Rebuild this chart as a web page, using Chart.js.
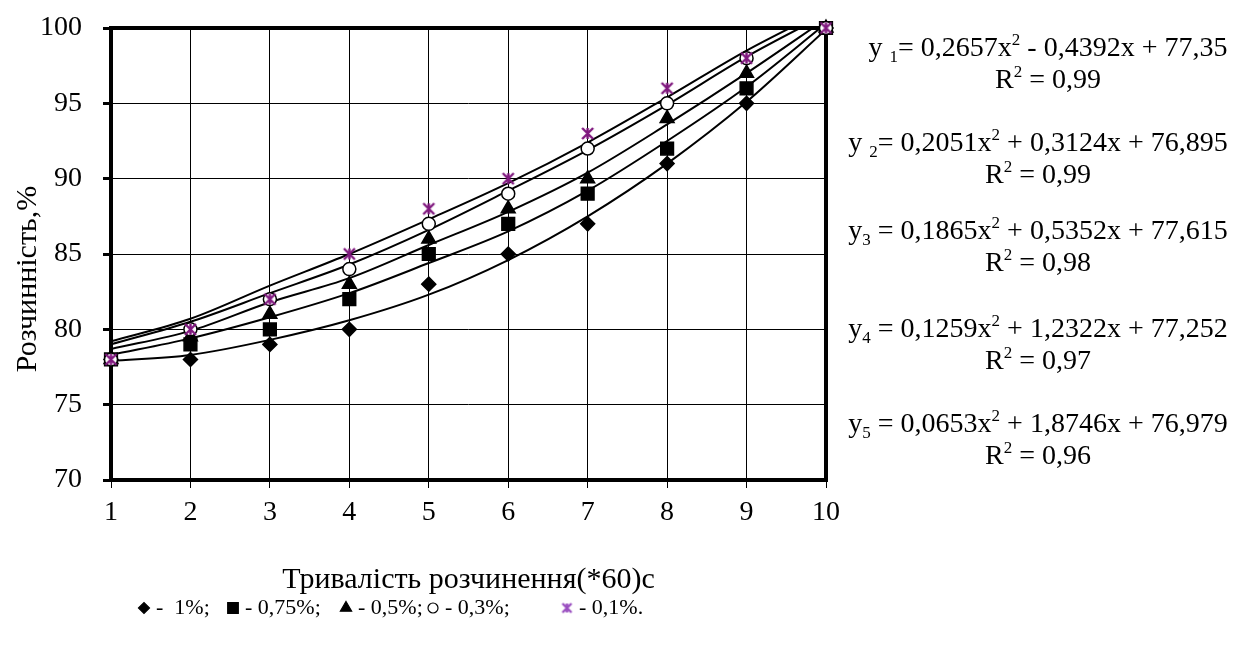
<!DOCTYPE html>
<html>
<head>
<meta charset="utf-8">
<script src="https://cdn.jsdelivr.net/npm/chart.js@4/dist/chart.umd.min.js"></script>
<style>
  html, body { margin: 0; padding: 0; background: #fff; }
  #wrap { width: 1235px; height: 655px; position: relative; }
</style>
</head>
<body>
<div id="wrap"><canvas id="chart" width="1235" height="655"></canvas></div>
<script>
// Dissolution time, (*60) s
const X_VALUES = [1, 2, 3, 4, 5, 6, 7, 8, 9, 10];
const Y_TICKS = [70, 75, 80, 85, 90, 95, 100];

// Measured solubility, % (one array per concentration)
const SOL_1   = [78, 78, 79, 80, 83, 85, 87, 91, 95, 100];
const SOL_075 = [78, 79, 80, 82, 85, 87, 89, 92, 96, 100];
const SOL_05  = [78, 79.5, 81, 83, 86, 88, 90, 94, 97, 100];
const SOL_03  = [78, 80, 82, 84, 87, 89, 92, 95, 98, 100];
const SOL_01  = [78, 80, 82, 85, 88, 90, 93, 96, 98, 100];

// Trend curves as plotted, one value per time step
const TREND_1   = [77.9, 78.3, 79.3, 80.6, 82.3, 84.6, 87.5, 91.0, 95.1, 99.9];
const TREND_075 = [78.3, 79.4, 80.8, 82.4, 84.4, 86.5, 89.2, 92.5, 96.1, 100.3];
const TREND_05  = [78.7, 79.9, 81.8, 83.4, 85.6, 87.8, 90.4, 93.6, 97.0, 100.6];
const TREND_03  = [79.0, 80.5, 82.4, 84.3, 86.6, 89.2, 91.9, 94.9, 98.1, 100.9];
const TREND_01  = [79.2, 80.7, 82.9, 85.0, 87.3, 89.7, 92.4, 95.4, 98.5, 101.2];

const LEGEND_TEXT = ['-  1%;', '- 0,75%;', '- 0,5%;', '- 0,3%;', '- 0,1%.'];

// Regression equations, as rich-text runs: [text, 'n' | 'sub' | 'sup']
const EQUATIONS = [
  [['y ', 'n'], ['1', 'sub'], ['= 0,2657x', 'n'], ['2', 'sup'], [' - 0,4392x + 77,35', 'n']],
  [['y ', 'n'], ['2', 'sub'], ['= 0,2051x', 'n'], ['2', 'sup'], [' + 0,3124x + 76,895', 'n']],
  [['y', 'n'], ['3', 'sub'], [' = 0,1865x', 'n'], ['2', 'sup'], [' + 0,5352x + 77,615', 'n']],
  [['y', 'n'], ['4', 'sub'], [' = 0,1259x', 'n'], ['2', 'sup'], [' + 1,2322x + 77,252', 'n']],
  [['y', 'n'], ['5', 'sub'], [' = 0,0653x', 'n'], ['2', 'sup'], [' + 1,8746x + 76,979', 'n']]
];
const R2_VALUES = ['0,99', '0,99', '0,98', '0,97', '0,96'];

const X_TITLE = 'Тривалість розчинення(*60)с';
const Y_TITLE = 'Розчинність,%';

const SERIF = "'Liberation Serif', 'Times New Roman', serif";
const PURPLE = '#80197f';

// Asterisk-style marker (X with a vertical bar)
function makeStar(size, color) {
  const c = document.createElement('canvas');
  c.width = size; c.height = size;
  const g = c.getContext('2d');
  g.strokeStyle = color;
  g.lineWidth = 2.4;
  const m = 2, s = size - 2;
  g.beginPath();
  g.moveTo(m, m); g.lineTo(s, s);
  g.moveTo(s, m); g.lineTo(m, s);
  g.moveTo(size / 2, m); g.lineTo(size / 2, s);
  g.stroke();
  return c;
}
const starMarker = makeStar(15, PURPLE);
const starLegend = makeStar(13, '#9a4fc0');

const pairs = arr => X_VALUES.map((x, i) => ({ x, y: arr[i] }));

function trend(arr) {
  return {
    type: 'line', data: pairs(arr), borderColor: '#000', borderWidth: 2,
    pointRadius: 0, cubicInterpolationMode: 'monotone', fill: false,
    clip: 0, order: 10
  };
}
function marks(label, arr, style, bg, border, radius, order) {
  return {
    type: 'line', label, data: pairs(arr), showLine: false,
    pointStyle: style, pointRadius: radius, pointHoverRadius: radius,
    pointBackgroundColor: bg, pointBorderColor: border, pointBorderWidth: 1.5,
    backgroundColor: bg, borderColor: border, clip: false, order
  };
}

const datasets = [
  trend(TREND_1), trend(TREND_075), trend(TREND_05), trend(TREND_03), trend(TREND_01),
  marks(LEGEND_TEXT[0], SOL_1, 'rectRot', '#000', '#000', 7, 5),
  marks(LEGEND_TEXT[1], SOL_075, 'rect', '#000', '#000', 9, 4),
  marks(LEGEND_TEXT[2], SOL_05, 'triangle', '#000', '#000', 8, 3),
  marks(LEGEND_TEXT[3], SOL_03, 'circle', '#fff', '#000', 6.5, 2),
  marks(LEGEND_TEXT[4], SOL_01, starMarker, PURPLE, PURPLE, 7, 1)
];

// Legend layout: marker centre for each entry, text follows the marker
const LEGEND_MARK_X = [144, 233, 346, 433, 567];
const LEGEND_GAP = 12;
const LEGEND_Y = 608;
const LEGEND_STYLE = [
  { pointStyle: 'rectRot', radius: 5.5, fill: '#000', stroke: '#000' },
  { pointStyle: 'rect', radius: 7.5, fill: '#000', stroke: '#000' },
  { pointStyle: 'triangle', radius: 6.5, fill: '#000', stroke: '#000' },
  { pointStyle: 'circle', radius: 5, fill: '#fff', stroke: '#000' },
  { pointStyle: starLegend, radius: 6, fill: '#9a4fc0', stroke: '#9a4fc0' }
];

function drawRich(ctx, runs, cx, cy, size) {
  const fontFor = k => (k === 'n' ? size : Math.round(size * 0.62)) + 'px ' + SERIF;
  let total = 0;
  runs.forEach(([t, k]) => { ctx.font = fontFor(k); total += ctx.measureText(t).width; });
  let x = cx - total / 2;
  ctx.textAlign = 'left';
  ctx.textBaseline = 'alphabetic';
  runs.forEach(([t, k]) => {
    ctx.font = fontFor(k);
    const dy = k === 'sub' ? size * 0.2 : k === 'sup' ? -size * 0.38 : 0;
    ctx.fillText(t, x, cy + dy);
    x += ctx.measureText(t).width;
  });
}

const annotations = {
  id: 'annotations',
  beforeDatasetsDraw(chart) {
    const { ctx, chartArea: a } = chart;
    ctx.save();
    ctx.strokeStyle = '#000';
    ctx.lineWidth = 4;
    ctx.strokeRect(a.left, a.top, a.right - a.left, a.bottom - a.top);
    ctx.restore();
  },
  afterDraw(chart) {
    const { ctx, chartArea: a } = chart;
    ctx.save();
    ctx.fillStyle = '#000';
    // y axis title
    ctx.save();
    ctx.translate(28, (a.top + a.bottom) / 2 + 25);
    ctx.rotate(-Math.PI / 2);
    ctx.font = '30px ' + SERIF;
    ctx.textAlign = 'center';
    ctx.textBaseline = 'middle';
    ctx.fillText(Y_TITLE, 0, 0);
    ctx.restore();
    // regression equations with R^2 beneath each
    const size = 28;
    const eqY = [56, 151, 239, 337, 432];
    const centers = [1048, 1038, 1038, 1038, 1038];
    EQUATIONS.forEach((runs, i) => {
      drawRich(ctx, runs, centers[i], eqY[i], size);
      drawRich(ctx, [['R', 'n'], ['2', 'sup'], [' = ' + R2_VALUES[i], 'n']], centers[i], eqY[i] + 32, size);
    });
    // legend
    LEGEND_TEXT.forEach((t, i) => {
      const st = LEGEND_STYLE[i];
      ctx.fillStyle = st.fill;
      ctx.strokeStyle = st.stroke;
      ctx.lineWidth = 1.2;
      Chart.helpers.drawPoint(ctx, { pointStyle: st.pointStyle, radius: st.radius, borderWidth: 1.2, rotation: 0 }, LEGEND_MARK_X[i], LEGEND_Y);
      ctx.fillStyle = '#000';
      ctx.font = '22px ' + SERIF;
      ctx.textAlign = 'left';
      ctx.textBaseline = 'middle';
      ctx.fillText(t, LEGEND_MARK_X[i] + LEGEND_GAP, LEGEND_Y);
    });
    ctx.restore();
  }
};

new Chart(document.getElementById('chart'), {
  type: 'line',
  data: { datasets },
  options: {
    responsive: false,
    animation: false,
    events: [],
    layout: { padding: { left: 0, top: 28, right: 409, bottom: 0 } },
    plugins: {
      tooltip: { enabled: false },
      legend: { display: false }
    },
    scales: {
      x: {
        type: 'linear', min: 1, max: 10,
        afterBuildTicks: s => { s.ticks = X_VALUES.map(v => ({ value: v })); },
        afterFit: s => { s.height = 175; s.paddingLeft = 0; s.paddingRight = 0; },
        ticks: { color: '#000', font: { family: SERIF, size: 28 }, padding: 8, maxRotation: 0 },
        grid: {
          color: '#000', lineWidth: 1, borderDash: [2, 2],
          drawTicks: true, tickLength: 8, tickColor: '#000', tickWidth: 1, tickBorderDash: []
        },
        border: { display: false },
        title: { display: true, text: X_TITLE, color: '#000', font: { family: SERIF, size: 30 }, padding: { top: 0, bottom: 57 } }
      },
      y: {
        type: 'linear', min: 70, max: 100,
        afterBuildTicks: s => { s.ticks = Y_TICKS.map(v => ({ value: v })); },
        afterFit: s => { s.width = 111; s.paddingTop = 0; s.paddingBottom = 0; },
        ticks: { color: '#000', font: { family: SERIF, size: 28 }, padding: 21 },
        grid: {
          color: '#000', lineWidth: 1, borderDash: [2, 2],
          drawTicks: true, tickLength: 8, tickColor: '#000', tickWidth: 3, tickBorderDash: []
        },
        border: { display: false }
      }
    }
  },
  plugins: [annotations]
});
</script>
</body>
</html>
